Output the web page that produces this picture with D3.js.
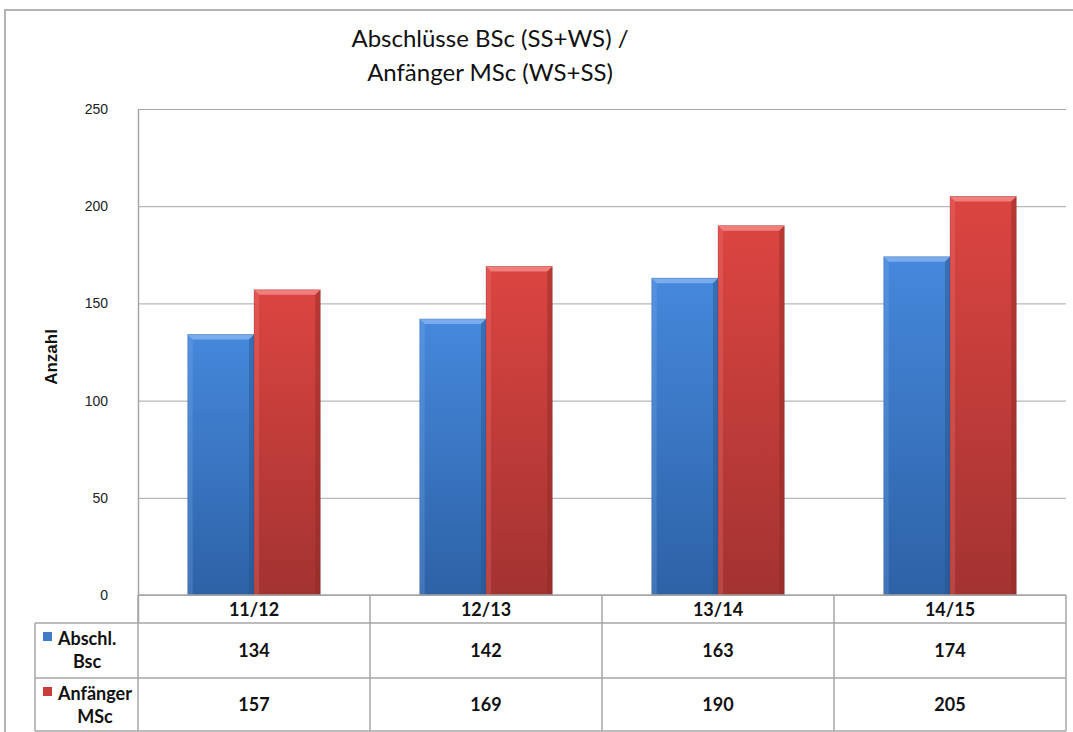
<!DOCTYPE html>
<html>
<head>
<meta charset="utf-8">
<script src="https://cdn.jsdelivr.net/npm/d3@7/dist/d3.min.js"></script>
<style>
  html, body { margin: 0; padding: 0; background: #fff; overflow: hidden; }
  svg { display: block; }
</style>
</head>
<body>
<svg id="chart" width="1073" height="732"></svg>
<script>
// Semester categories and the two series shown as bars and in the data table
const categories = ["11/12", "12/13", "13/14", "14/15"];
const seriesNames = ["Abschl. Bsc", "Anfänger MSc"];
const abschlBsc = [134, 142, 163, 174];
const anfaengerMSc = [157, 169, 190, 205];
const yTicks = [0, 50, 100, 150, 200, 250];
const titleLines = ["Abschlüsse BSc (SS+WS) /", "Anfänger MSc (WS+SS)"];
const legendLines = [["Abschl.", "Bsc"], ["Anfänger", "MSc"]];

const seriesValues = [abschlBsc, anfaengerMSc];
const colors = [
  { top: "#4688dc", bottom: "#2d62a6", bevel: "#7fb0ee", edge: "#25528c", key: "#3f7cc8" },
  { top: "#dc4541", bottom: "#a33331", bevel: "#f28482", edge: "#8a2a28", key: "#c83c3a" }
];

const svg = d3.select("#chart");
const gridColor = "#a6a6a6";
const fontMain = "Lato, 'Open Sans', sans-serif";

// Layout
const plot = { left: 138, right: 1066, top: 109, bottom: 595 };
const tableLeft = 35;
const rowEdges = [595, 623, 678, 731];

// Outer chart frame
svg.append("rect")
  .attr("x", 5).attr("y", 10)
  .attr("width", 1090).attr("height", 740)
  .attr("fill", "#fff")
  .attr("stroke", "#b4b4b4").attr("stroke-width", 2);

// Scales
const x0 = d3.scaleBand().domain(categories).range([plot.left, plot.right]).padding(0);
const x1 = d3.scaleBand().domain(seriesNames).range([0, x0.bandwidth()])
  .paddingInner(0).paddingOuter(0.75);
const y = d3.scaleLinear().domain([0, 250]).range([plot.bottom, plot.top]);

// Gradients for bars
const defs = svg.append("defs");
colors.forEach((c, i) => {
  const g = defs.append("linearGradient").attr("id", "grad" + i)
    .attr("x1", 0).attr("y1", 0).attr("x2", 0).attr("y2", 1)
    .attr("gradientUnits", "objectBoundingBox");
  g.append("stop").attr("offset", "0%").attr("stop-color", c.top);
  g.append("stop").attr("offset", "100%").attr("stop-color", c.bottom);
});

// Gridlines and value axis
const yAxis = d3.axisLeft(y).tickValues(yTicks).tickSize(0).tickPadding(0);
const gAxis = svg.append("g").attr("transform", `translate(${plot.left},0)`).call(yAxis)
  .attr("font-family", "'Liberation Sans', Arial, sans-serif")
  .attr("font-size", 14);
gAxis.select(".domain").remove();
gAxis.selectAll(".tick text")
  .attr("x", -30)
  .attr("dy", "0.32em")
  .attr("fill", "#222")
  .attr("text-anchor", "end");
gAxis.selectAll(".tick").append("line")
  .attr("x1", 0).attr("x2", plot.right - plot.left)
  .attr("stroke", gridColor).attr("stroke-width", 1);

// Vertical value-axis line (runs down into the table header)
svg.append("line")
  .attr("x1", plot.left + 0.5).attr("x2", plot.left + 0.5)
  .attr("y1", plot.top).attr("y2", rowEdges[1])
  .attr("stroke", gridColor).attr("stroke-width", 1.5);

// Axis title
svg.append("text")
  .attr("transform", "translate(57,357) rotate(-90)")
  .attr("text-anchor", "middle")
  .attr("font-family", "'Liberation Sans', Arial, sans-serif")
  .attr("font-weight", "bold")
  .attr("font-size", 17)
  .attr("fill", "#111")
  .text("Anzahl");

// Chart title
svg.append("g").selectAll("text").data(titleLines).join("text")
  .attr("x", 490)
  .attr("y", (d, i) => 47 + i * 34)
  .attr("text-anchor", "middle")
  .attr("font-family", fontMain)
  .attr("font-size", 24)
  .attr("fill", "#111")
  .text(d => d);

// Bars with bevelled edges
const bevel = 5;
const barData = [];
categories.forEach((cat, ci) => {
  seriesNames.forEach((s, si) => {
    barData.push({ cat, s, si, v: seriesValues[si][ci] });
  });
});
const bars = svg.append("g").selectAll("g").data(barData).join("g");
bars.each(function(d) {
  const g = d3.select(this);
  const bx = x0(d.cat) + x1(d.s);
  const bw = x1.bandwidth();
  const by = y(d.v);
  const bh = y(0) - by;
  const c = colors[d.si];
  g.append("rect").attr("x", bx).attr("y", by).attr("width", bw).attr("height", bh)
    .attr("fill", `url(#grad${d.si})`);
  // top bevel
  g.append("path")
    .attr("d", `M${bx},${by} L${bx + bw},${by} L${bx + bw - bevel},${by + bevel} L${bx + bevel},${by + bevel} Z`)
    .attr("fill", c.bevel).attr("opacity", 0.9);
  // left bevel
  g.append("path")
    .attr("d", `M${bx},${by} L${bx + bevel},${by + bevel} L${bx + bevel},${by + bh} L${bx},${by + bh} Z`)
    .attr("fill", c.bevel).attr("opacity", 0.25);
  // right bevel
  g.append("path")
    .attr("d", `M${bx + bw},${by} L${bx + bw - bevel},${by + bevel} L${bx + bw - bevel},${by + bh} L${bx + bw},${by + bh} Z`)
    .attr("fill", c.edge).attr("opacity", 0.45);
  g.append("rect").attr("x", bx).attr("y", by).attr("width", bw).attr("height", bh)
    .attr("fill", "none").attr("stroke", c.edge).attr("stroke-opacity", 0.35).attr("stroke-width", 0.8);
});

// Data table
const table = svg.append("g");
// horizontal lines
table.append("line").attr("x1", plot.left).attr("x2", plot.right)
  .attr("y1", rowEdges[0]).attr("y2", rowEdges[0]);
[1, 2, 3].forEach(r => {
  table.append("line").attr("x1", tableLeft).attr("x2", plot.right)
    .attr("y1", rowEdges[r]).attr("y2", rowEdges[r]);
});
// vertical lines
table.append("line").attr("x1", tableLeft).attr("x2", tableLeft)
  .attr("y1", rowEdges[1]).attr("y2", rowEdges[3]);
categories.forEach(cat => {
  const xl = x0(cat);
  table.append("line").attr("x1", xl).attr("x2", xl)
    .attr("y1", rowEdges[0]).attr("y2", rowEdges[3]);
});
table.append("line").attr("x1", plot.right).attr("x2", plot.right)
  .attr("y1", rowEdges[0]).attr("y2", rowEdges[3]);
table.selectAll("line").attr("stroke", gridColor).attr("stroke-width", 1.5);

// Category labels in header row
table.selectAll("text.cat").data(categories).join("text")
  .attr("class", "cat")
  .attr("x", d => x0(d) + x0.bandwidth() / 2)
  .attr("y", 616)
  .attr("text-anchor", "middle")
  .attr("font-family", fontMain).attr("font-weight", "bold").attr("font-size", 18)
  .attr("fill", "#111")
  .text(d => d);

// Value cells
seriesValues.forEach((vals, si) => {
  const cy = (rowEdges[si + 1] + rowEdges[si + 2]) / 2;
  table.selectAll("text.v" + si).data(vals).join("text")
    .attr("class", "v" + si)
    .attr("x", (d, i) => x0(categories[i]) + x0.bandwidth() / 2)
    .attr("y", cy)
    .attr("dy", "0.35em")
    .attr("text-anchor", "middle")
    .attr("font-family", fontMain).attr("font-weight", "bold").attr("font-size", 18)
    .attr("fill", "#111")
    .text(d => d);
});

// Legend keys in the first column
legendLines.forEach((lines, si) => {
  const top = rowEdges[si + 1];
  table.append("rect")
    .attr("x", 43).attr("y", top + 9).attr("width", 9).attr("height", 9)
    .attr("fill", colors[si].key);
  const t1 = table.append("text")
    .attr("x", 58).attr("y", top + 22)
    .attr("font-family", fontMain).attr("font-weight", "bold").attr("font-size", 18)
    .attr("fill", "#111")
    .text(lines[0]);
  const w = t1.node().getComputedTextLength();
  table.append("text")
    .attr("x", 58 + w / 2).attr("y", top + 45)
    .attr("text-anchor", "middle")
    .attr("font-family", fontMain).attr("font-weight", "bold").attr("font-size", 18)
    .attr("fill", "#111")
    .text(lines[1]);
});
</script>
</body>
</html>
